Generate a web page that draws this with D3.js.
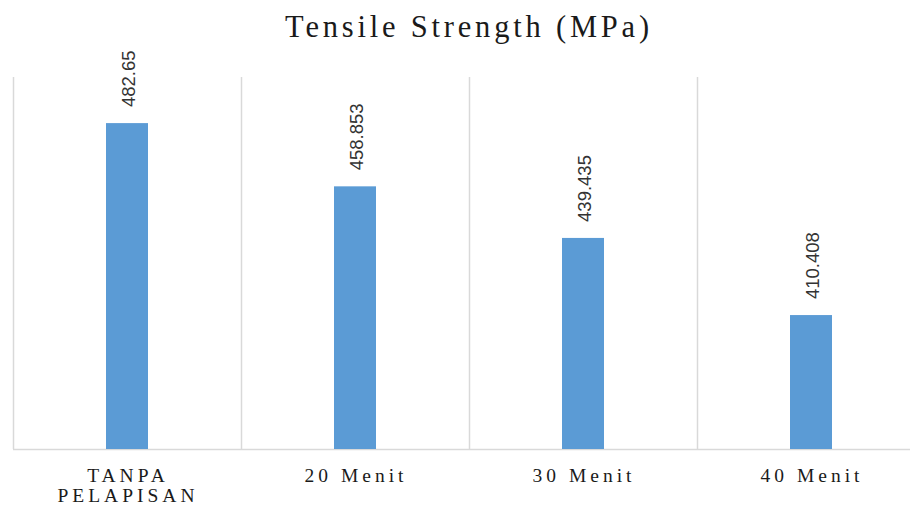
<!DOCTYPE html>
<html>
<head>
<meta charset="utf-8">
<script src="https://cdn.jsdelivr.net/npm/d3@7"></script>
<style>
  html, body { margin: 0; padding: 0; background: #fff; }
  svg { display: block; }
</style>
</head>
<body>
<svg id="chart" width="910" height="508"></svg>
<script>
// Tensile strength per coating duration
const categories = [["TANPA", "PELAPISAN"], ["20 Menit"], ["30 Menit"], ["40 Menit"]];
const values = [482.65, 458.853, 439.435, 410.408];
const valueLabels = ["482.65", "458.853", "439.435", "410.408"];
const yDomain = [360, 500];

const svg = d3.select("#chart");
const margin = { left: 13, top: 77, bottom: 449 };
const bandW = 228;

const x = d3.scaleBand()
  .domain(d3.range(categories.length))
  .range([margin.left, margin.left + bandW * categories.length])
  .paddingInner(0.8158)
  .paddingOuter(0.4079);

const y = d3.scaleLinear().domain(yDomain).range([margin.bottom, margin.top]);

// Title
svg.append("text")
  .attr("x", 469)
  .attr("y", 37)
  .attr("text-anchor", "middle")
  .attr("font-family", "Liberation Serif, Times New Roman, serif")
  .attr("font-size", 30.5)
  .attr("letter-spacing", 3.8)
  .attr("fill", "#1a1a1a")
  .text("Tensile Strength (MPa)");

// Vertical category separators
const sepX = d3.range(categories.length + 1).map(i => margin.left + i * bandW);
svg.append("g").selectAll("line")
  .data(sepX)
  .join("line")
  .attr("x1", d => d + 0.5).attr("x2", d => d + 0.5)
  .attr("y1", margin.top).attr("y2", margin.bottom)
  .attr("stroke", "#d9d9d9")
  .attr("stroke-width", 1.5);

// Baseline
svg.append("line")
  .attr("x1", margin.left).attr("x2", margin.left + bandW * categories.length)
  .attr("y1", margin.bottom + 0.5).attr("y2", margin.bottom + 0.5)
  .attr("stroke", "#d9d9d9")
  .attr("stroke-width", 1.5);

// Bars
svg.append("g").selectAll("rect")
  .data(values)
  .join("rect")
  .attr("x", (d, i) => x(i))
  .attr("width", x.bandwidth())
  .attr("y", d => y(d))
  .attr("height", d => y(yDomain[0]) - y(d))
  .attr("fill", "#5b9bd5");

// Rotated value labels
svg.append("g").selectAll("text")
  .data(values)
  .join("text")
  .attr("transform", (d, i) => `translate(${x(i) + x.bandwidth() / 2 + 8},${y(d) - 16}) rotate(-90)`)
  .attr("font-family", "Liberation Sans, Arial, sans-serif")
  .attr("font-size", 18.5)
  .attr("fill", "#333")
  .text((d, i) => valueLabels[i]);

// Category labels
const catG = svg.append("g");
categories.forEach((lines, i) => {
  const cx = margin.left + bandW * i + bandW / 2;
  const t = catG.append("text")
    .attr("y", 481.5)
    .attr("text-anchor", "middle")
    .attr("font-family", "Liberation Serif, Times New Roman, serif")
    .attr("font-size", 19.5)
    .attr("letter-spacing", 4)
    .attr("fill", "#1a1a1a");
  lines.forEach((ln, j) => {
    t.append("tspan")
      .attr("x", cx + 1)
      .attr("dy", j === 0 ? 0 : 20.5)
      .text(ln);
  });
});
</script>
</body>
</html>
